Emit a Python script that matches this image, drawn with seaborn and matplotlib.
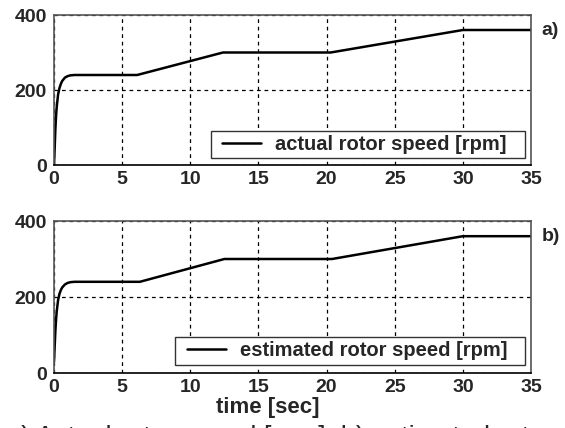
import matplotlib
matplotlib.use("Agg")
import matplotlib.pyplot as plt
from matplotlib.patches import Rectangle
import seaborn as sns
import pandas as pd

# rotor speed traces [rpm] versus time [sec]
t_actual = [0.0, 0.05, 0.1, 0.15, 0.2, 0.3, 0.4, 0.5, 0.6, 0.8, 1.0, 1.2, 1.5,
            6.1, 12.4, 20.3, 30.0, 35.0]
w_actual = [0, 45, 95, 130, 155, 188, 205, 216, 224, 233, 237, 239, 240,
            240, 300, 300, 360, 360]

t_est = [0.0, 0.05, 0.1, 0.15, 0.2, 0.3, 0.4, 0.5, 0.6, 0.8, 1.0, 1.2, 1.5,
         6.3, 12.5, 20.4, 30.0, 35.0]
w_est = [30, 70, 110, 140, 162, 192, 208, 218, 225, 233, 237, 239, 240,
         240, 300, 300, 360, 360]

x_ticks = [0, 5, 10, 15, 20, 25, 30, 35]
y_ticks = [0, 200, 400]

sns.set_style("white")
plt.rcParams["font.family"] = ["Liberation Sans", "DejaVu Sans"]

W, H = 565, 428
fig = plt.figure(figsize=(W / 100, H / 100), dpi=100)

AX_L, AX_R = 54, 531


def px_axes(top, bottom):
    return fig.add_axes([AX_L / W, 1 - bottom / H, (AX_R - AX_L) / W, (bottom - top) / H])


# (axes top/bottom px, time, speed, legend label, panel tag,
#  legend box left/top/bottom px, legend handle start px)
panels = [
    (15, 165, t_actual, w_actual, "actual rotor speed [rpm]", "a)", 211, 131, 158, 222),
    (221, 373, t_est, w_est, "estimated rotor speed [rpm]", "b)", 175, 337, 365, 187),
]

for top, bottom, t, w, name, tag, bl, bt, bb, hs in panels:
    ax = px_axes(top, bottom)
    df = pd.DataFrame({"time": t, "speed": w})
    sns.lineplot(data=df, x="time", y="speed", ax=ax, color="black",
                 linewidth=1.8, label=name)
    ax.set_xlim(0, 35)
    ax.set_ylim(0, 400)
    ax.set_xticks(x_ticks)
    ax.set_yticks(y_ticks)
    ax.set_xlabel("")
    ax.set_ylabel("")
    ax.grid(True, color="black", linestyle=(0, (3, 3)), linewidth=0.9)
    ax.set_axisbelow(True)
    ax.tick_params(direction="in", length=6, width=1, color="black",
                   labelsize=14, pad=4)
    ax.tick_params(axis="y", pad=5)
    for lab in ax.get_xticklabels() + ax.get_yticklabels():
        lab.set_fontweight("bold")
    for side in ("top", "right", "left"):
        ax.spines[side].set_color("#555555")
        ax.spines[side].set_linewidth(1.2)
    ax.spines["bottom"].set_color("black")
    ax.spines["bottom"].set_linewidth(1.2)

    # legend: white box with dark outline, entry placed inside it
    ah = bottom - top
    aw = AX_R - AX_L
    box = Rectangle(((bl - AX_L) / aw, (bottom - bb) / ah),
                    (525 - bl) / aw, (bb - bt) / ah, transform=ax.transAxes,
                    facecolor="white", edgecolor="#333333", linewidth=1.0,
                    zorder=4)
    ax.add_patch(box)
    leg = ax.legend(loc="center left", frameon=False,
                    handlelength=1.94, borderpad=0.0, handletextpad=0.7,
                    borderaxespad=0.0,
                    prop={"weight": "bold", "size": 14.5},
                    bbox_to_anchor=((hs - AX_L) / aw, (bottom - (bt + bb) / 2) / ah))
    leg.set_zorder(5)
    ax.text(1.022, 0.9, tag, transform=ax.transAxes, fontsize=14,
            fontweight="bold", va="center", ha="left")

fig.text(268 / W, 1 - 408 / H, "time [sec]", fontsize=16,
         fontweight="bold", ha="center", va="center")
fig.text(6.5 / W, 1 - 445 / H, "a) Actual rotor speed [rpm], b) estimated rotor speed [rpm]",
         fontsize=19.5, ha="left", va="baseline")

fig.savefig("out.png", dpi=100)
